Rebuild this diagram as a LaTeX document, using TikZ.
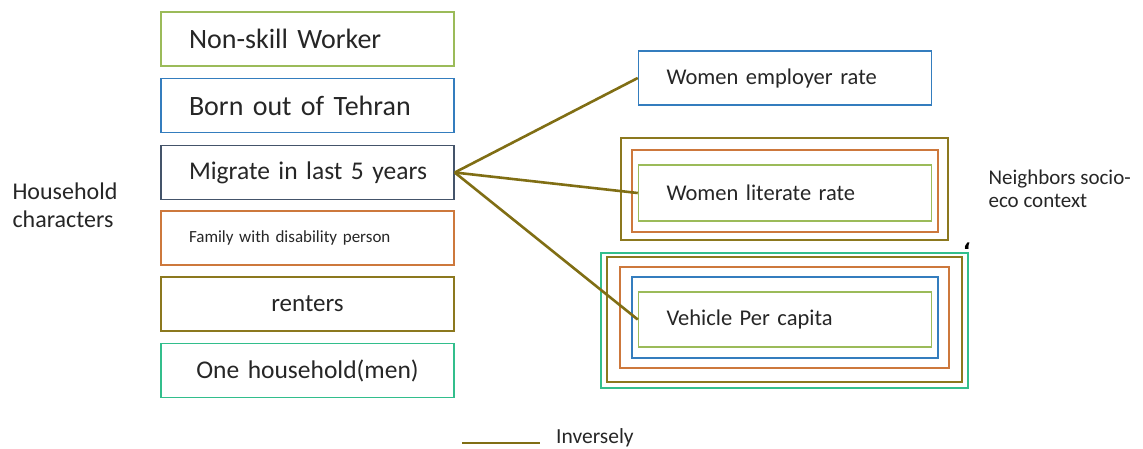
\documentclass[tikz,border=0pt]{standalone}
\usepackage{fontspec}
\setmainfont{Carlito}
\newfontfamily\arabicfont[Script=Arabic]{DejaVu Sans}
\usepackage{tikz}
\usetikzlibrary{calc}
\definecolor{lgreen}{RGB}{155,187,89}
\definecolor{sblue}{RGB}{52,125,190}
\definecolor{slate}{RGB}{68,84,106}
\definecolor{rust}{RGB}{205,120,60}
\definecolor{olive}{RGB}{140,120,30}
\definecolor{teal}{RGB}{50,190,140}
\definecolor{inverse}{RGB}{128,110,20}
\newcommand{\fs}[1]{\fontsize{#1}{#1}\selectfont}
\newcommand{\factor}[5][]{\node[factorbox,draw=#2,#1] (#3) at (#4) {\mbox{#5}};}
\newcommand{\nestbox}[5]{\draw[line width=1.5pt,#5] ( #1 , #2 ) rectangle ( #3 , #4 );}
\tikzset{factorbox/.style={line width=1.5pt, minimum height=54pt, text width=237pt, inner xsep=28pt, inner ysep=0pt, align=left, text=black!85}}

\begin{document}
\begin{tikzpicture}[x=1pt,y=-1pt]
\useasboundingbox (0,0) rectangle (1143,448);
% household characters
\factor[font=\fs{28}]{lgreen}{skill}{307.5,39}{Non-skill Worker}
\factor[font=\fs{28}]{sblue}{born}{307.5,105.5}{Born out of Tehran}
\factor[font=\fs{25.5}]{slate}{migrate}{307.5,172.5}{Migrate in last 5 years}
\factor[font=\fs{17}]{rust}{disab}{307.5,238}{Family with disability person}
\factor[font=\fs{25}, align=center]{olive}{rent}{307.5,304}{renters}
\factor[font=\fs{25.5}, align=center]{teal}{onehh}{307.5,370.5}{One household(men)}
\node[anchor=base west, align=left, font=\fs{24}, text=black!85] (house) at (9,227) {Household\\[4pt]characters};
% neighbors socio-eco context
\factor[font=\fs{22.5}]{sblue}{employ}{785,78}{Women employer rate}
\factor[font=\fs{22.5}, minimum height=56pt]{lgreen}{literate}{785,193}{Women literate rate}
\nestbox{632}{150}{938}{232}{rust}
\nestbox{621}{138}{948}{240}{olive}
\factor[font=\fs{22.5}, minimum height=55pt]{lgreen}{vehicle}{785,319.5}{Vehicle Per capita}
\nestbox{632}{277}{938}{358}{sblue}
\nestbox{620}{267}{949}{368}{rust}
\nestbox{607}{257}{962}{382}{olive}
\nestbox{601}{253}{968}{388}{teal}
\node[anchor=base west, align=left, font=\fs{21}, text=black!85] (neigh) at (985,207) {Neighbors socio-\\[2pt]eco context};
\node[font=\arabicfont\bfseries\fs{20}] (mark) at (967,246) {،};
% links
\draw[inverse, line width=2.6pt] (migrate.east) -- (employ.west);
\draw[inverse, line width=2.6pt] (migrate.east) -- (literate.west);
\draw[inverse, line width=2.6pt] (migrate.east) -- (vehicle.west);
% legend
\coordinate (legA) at (462,443);
\coordinate (legB) at (540,443);
\draw[inverse, line width=2.6pt] (legA) -- (legB);
\node[anchor=base west, font=\fs{21.5}, text=black!85, inner sep=0pt] (inv) at (556,443.5) {Inversely};
\end{tikzpicture}
\end{document}
